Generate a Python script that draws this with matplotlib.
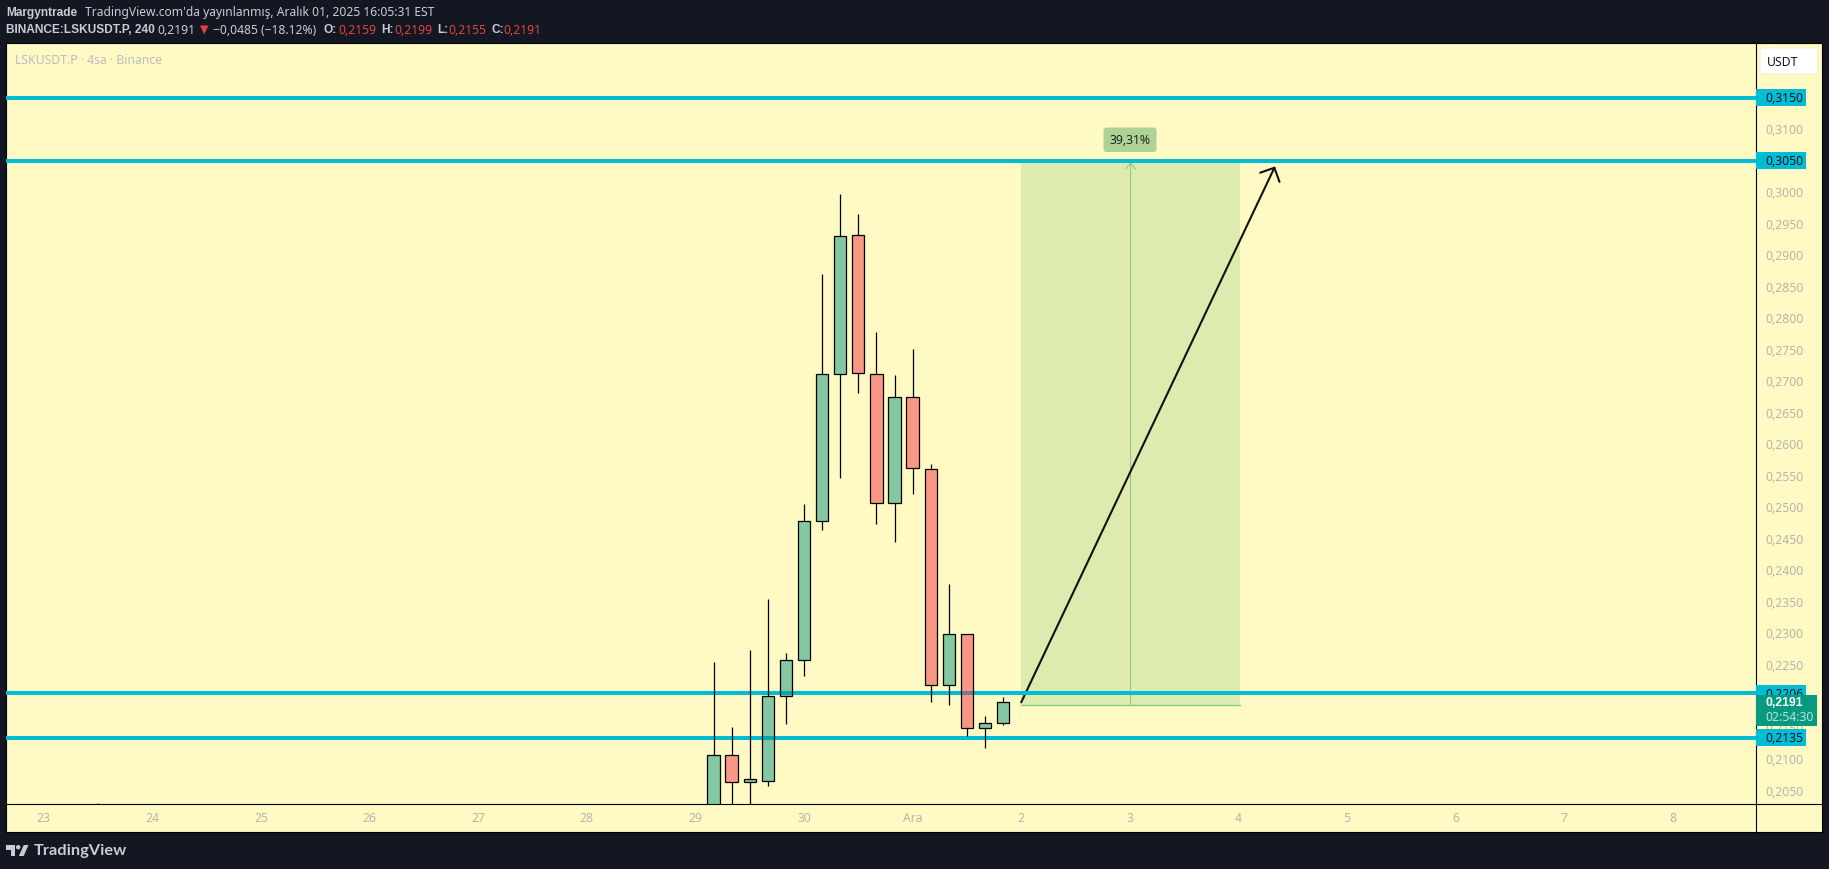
import matplotlib
matplotlib.use("Agg")
import matplotlib.pyplot as plt
from matplotlib.patches import Rectangle, FancyBboxPatch, Polygon, Circle

plt.rcParams['font.family'] = ['Noto Sans', 'DejaVu Sans']
BOLD_FONT = ['Liberation Sans', 'DejaVu Sans']

# --- Data ---
# candle position = number of 4h bars from the "30" day tick
candle_idx = [-39, -5, -4, -3, -2, -1, 0, 1, 2, 3, 4, 5, 6, 7, 8, 9, 10, 11]
opens = [0.1990, 0.2010, 0.2107, 0.2065, 0.2067, 0.2201, 0.2258, 0.2478, 0.2711, 0.2932,
         0.2711, 0.2507, 0.2675, 0.2561, 0.2218, 0.2300, 0.2151, 0.2159]
highs = [0.2032, 0.2255, 0.2152, 0.2274, 0.2355, 0.2269, 0.2506, 0.2870, 0.2997, 0.2966,
         0.2778, 0.2710, 0.2751, 0.2569, 0.2379, 0.2300, 0.2169, 0.2199]
lows = [0.1980, 0.1990, 0.2020, 0.2020, 0.2059, 0.2156, 0.2233, 0.2464, 0.2547, 0.2682,
        0.2474, 0.2446, 0.2522, 0.2192, 0.2187, 0.2137, 0.2118, 0.2155]
closes = [0.2000, 0.2107, 0.2065, 0.2069, 0.2201, 0.2258, 0.2478, 0.2711, 0.2930, 0.2713,
          0.2507, 0.2675, 0.2562, 0.2218, 0.2300, 0.2150, 0.2158, 0.2191]

levels = [0.3150, 0.3050, 0.2206, 0.2135]
level_labels = ['0,3150', '0,3050', '0,2206', '0,2135']

price_ticks = [0.2050 + 0.005 * i for i in range(22) if i != 3]
price_tick_labels = [f"{p:.4f}".replace('.', ',') for p in price_ticks]

day_ticks = list(range(16))
day_labels = ['23', '24', '25', '26', '27', '28', '29', '30', 'Ara',
              '2', '3', '4', '5', '6', '7', '8']

target_price = 0.3050
entry_price = 0.2187
position_days = (9.0, 11.015)
arrow_start = (9.0, 0.2191)
arrow_end = (11.337, 0.3041)

# --- Colours ---
BG = '#131722'
PANEL = '#FFF9C4'
UP = '#089981'
DOWN = '#F23645'
CYAN = '#00BCD4'
TICK = '#b6b5ab'
HEAD = '#c9ccd4'
RED = '#e5423f'
FS = 8.8

# --- Layout (pixels) ---
W, H = 1829, 869
LEFT, RIGHT, END = 6.3, 1756.2, 1822
TOP, BOTTOM, FRAME_BOTTOM = 43.3, 804.3, 832
PX_PER_DAY = 108.6
DAY0_PX = 43.8
PX_PER_PRICE = 6305
P_REF, P_REF_PX = 0.3150, 97.7
TEXT_NUDGE = 1.2 / PX_PER_PRICE  # labels sit a bit lower than matplotlib centres them


def axes_px(x0, y0, x1, y1, **kw):
    return fig.add_axes([x0 / W, 1 - y1 / H, (x1 - x0) / W, (y1 - y0) / H], **kw)


def px_to_price(y):
    return P_REF - (y - P_REF_PX) / PX_PER_PRICE


def px_to_day(x):
    return (x - DAY0_PX) / PX_PER_DAY


fig = plt.figure(figsize=(W / 100, H / 100), dpi=100, facecolor=BG)

# pixel overlay for the header, footer and frame
bg = axes_px(0, 0, W, H, zorder=0)
bg.set_xlim(0, W)
bg.set_ylim(H, 0)
bg.axis('off')
bg.add_patch(Rectangle((LEFT, TOP), END - LEFT, FRAME_BOTTOM - TOP, fc=PANEL, ec='black', lw=0.8))
bg.plot([LEFT, END], [BOTTOM, BOTTOM], color='black', lw=0.8)
bg.plot([RIGHT, RIGHT], [TOP, FRAME_BOTTOM], color='black', lw=0.8)

# --- Main chart ---
ax = axes_px(LEFT, TOP, RIGHT, BOTTOM, zorder=1)
ax.patch.set_alpha(0)
ax.axis('off')
ax.set_xlim(px_to_day(LEFT), px_to_day(RIGHT))
ax.set_ylim(px_to_price(BOTTOM), px_to_price(TOP))

# long position box
ax.add_patch(Rectangle((position_days[0], entry_price), position_days[1] - position_days[0],
                       target_price - entry_price, fc='#4CAF50', alpha=0.18, lw=0, zorder=1))
ax.plot(position_days, [entry_price, entry_price], color='#7ccb7e', lw=0.9, zorder=1.5)
ax.plot(position_days, [target_price, target_price], color='#7ccb7e', lw=0.9, zorder=1.5)
mid_day = sum(position_days) / 2
ax.annotate('', xy=(mid_day, target_price - 0.0002), xytext=(mid_day, entry_price),
            arrowprops=dict(arrowstyle='->,head_length=0.45,head_width=0.35', color='#7ccb7e',
                            lw=0.72, shrinkA=0, shrinkB=0, mutation_scale=10), zorder=2)

# hand drawn arrow
ax.annotate('', xy=arrow_end, xytext=arrow_start,
            arrowprops=dict(arrowstyle='->,head_length=0.76,head_width=0.77', color='#111111',
                            lw=1.5, shrinkA=0, shrinkB=0, mutation_scale=10), zorder=2.5)

# levels
for lv in levels:
    ax.axhline(lv, color=CYAN, lw=2.9, zorder=3, solid_capstyle='butt')

# candles
BODY_W = 12.3 / PX_PER_DAY
for i, o, h, l, c in zip(candle_idx, opens, highs, lows, closes):
    day = 7 + i / 6
    col = UP if c >= o else DOWN
    ax.plot([day, day], [max(o, c), h], color='black', lw=0.9, zorder=4, solid_capstyle='butt')
    ax.plot([day, day], [l, min(o, c)], color='black', lw=0.9, zorder=4, solid_capstyle='butt')
    ax.add_patch(Rectangle((day - BODY_W / 2, min(o, c)), BODY_W, abs(c - o), fc=col, alpha=0.5,
                           lw=0, zorder=4))
    ax.add_patch(Rectangle((day - BODY_W / 2, min(o, c)), BODY_W, abs(c - o), fc='none', ec='black',
                           lw=0.9, zorder=4.1))

# --- Price scale ---
pax = axes_px(RIGHT, TOP, END, BOTTOM, zorder=2)
pax.patch.set_alpha(0)
pax.axis('off')
pax.set_xlim(RIGHT, END)
pax.set_ylim(px_to_price(BOTTOM), px_to_price(TOP))
for p, lab in zip(price_ticks, price_tick_labels):
    pax.text(1765, p - TEXT_NUDGE, lab, color=TICK, fontsize=FS, va='center', ha='left', zorder=1)

TAG_H = 16.7 / PX_PER_PRICE
for lv, lab in zip(levels, level_labels):
    pax.add_patch(Rectangle((RIGHT, lv - TAG_H / 2), 1805.7 - RIGHT, TAG_H, fc=CYAN, lw=0, zorder=2))
    pax.text(1765, lv - TEXT_NUDGE, lab, color='#131722', fontsize=FS, va='center', ha='left', zorder=3)

pax.add_patch(Rectangle((RIGHT, px_to_price(725.7)), 1816.7 - RIGHT, 30.7 / PX_PER_PRICE,
                        fc=UP, lw=0, zorder=4))
pax.text(1765, px_to_price(703), '0,2191', color='white', fontsize=8.8, family=BOLD_FONT,
         fontweight='bold', va='center', ha='left', zorder=5)
pax.text(1765, px_to_price(717.5), '02:54:30', color='#b9e3da', fontsize=FS,
         va='center', ha='left', zorder=5)

# --- Time scale and chrome, in pixels ---
ov = axes_px(0, 0, W, H, zorder=3)
ov.patch.set_alpha(0)
ov.axis('off')
ov.set_xlim(0, W)
ov.set_ylim(H, 0)

for d, lab in zip(day_ticks, day_labels):
    ov.text(DAY0_PX + d * PX_PER_DAY, 819, lab, color=TICK, fontsize=FS, ha='center', va='center')

ov.add_patch(FancyBboxPatch((1760, 48), 57.7, 26, boxstyle='round,pad=0,rounding_size=4',
                            fc='white', ec='#f5f1d0', lw=0.7))
ov.text(1783, 62.5, 'USDT', color='#131722', fontsize=FS, ha='center', va='center')

ov.add_patch(FancyBboxPatch((1103.5, 127.5), 53, 24.5, boxstyle='round,pad=0,rounding_size=3',
                            fc='#afd296', lw=0))
ov.text(1130, 140, '39,31%', color='#1c2a1c', fontsize=FS, ha='center', va='center')

ov.text(15, 61, 'LSKUSDT.P · 4sa · Binance', color='#bcbcc0', fontsize=8.8, ha='left', va='center')

# header lines
HEAD_FS = 8.7
BOLD_FS = 8.6
HEAD_Y1, HEAD_Y2 = 12.8, 30.2
ov.text(6, HEAD_Y1, 'Margyntrade', color=HEAD, fontsize=BOLD_FS, family=BOLD_FONT, fontweight='bold',
        ha='left', va='center')
ov.text(85, HEAD_Y1, "TradingView.com'da yayınlanmış, Aralık 01, 2025 16:05:31 EST", color=HEAD,
        fontsize=HEAD_FS, ha='left', va='center')
ov.text(6, HEAD_Y2, 'BINANCE:LSKUSDT.P, 240', color=HEAD, fontsize=BOLD_FS, family=BOLD_FONT,
        fontweight='bold', ha='left', va='center')
ov.text(157.5, HEAD_Y2, '0,2191', color=HEAD, fontsize=HEAD_FS, ha='left', va='center')
ov.add_patch(Polygon([(200, 25.5), (208.5, 25.5), (204.2, 34.5)], closed=True, fc=RED, lw=0))
ov.text(213, HEAD_Y2, '−0,0485 (−18.12%)', color=HEAD, fontsize=HEAD_FS, ha='left', va='center')
for lx, lab, vx, val in [(324, 'O:', 338, '0,2159'), (381, 'H:', 394, '0,2199'),
                         (437, 'L:', 448, '0,2155'), (491, 'C:', 503, '0,2191')]:
    ov.text(lx, HEAD_Y2, lab, color=HEAD, fontsize=BOLD_FS, family=BOLD_FONT, fontweight='bold',
            ha='left', va='center')
    ov.text(vx, HEAD_Y2, val, color=RED, fontsize=HEAD_FS, ha='left', va='center')

# TradingView logo
LOGO = '#c9ccd4'
ov.add_patch(Polygon([(6, 845), (15, 845), (15, 856), (10.5, 856), (10.5, 849.5), (6, 849.5)],
                     closed=True, fc=LOGO, lw=0))
ov.add_patch(Circle((18.2, 847.2), 2.2, fc=LOGO, lw=0))
ov.add_patch(Polygon([(23.7, 845), (28.5, 845), (23.7, 856), (18.9, 856)], closed=True, fc=LOGO, lw=0))
ov.text(34, 850.5, 'TradingView', color=LOGO, fontsize=11.8, family=['Lato', 'DejaVu Sans'],
        fontweight='bold', ha='left', va='center')

fig.savefig('out.png', dpi=100, facecolor=BG)
